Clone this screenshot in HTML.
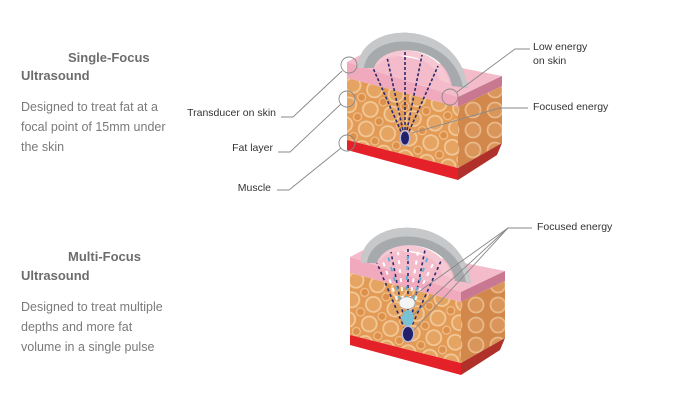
<!DOCTYPE html>
<html><head><style>
body{margin:0;background:#fff;width:685px;height:412px;overflow:hidden;font-family:"Liberation Sans",sans-serif;}
</style></head><body>
<svg width="685" height="412" viewBox="0 0 685 412" xmlns="http://www.w3.org/2000/svg" font-family="Liberation Sans, sans-serif">
<defs>
<pattern id="fat" width="22" height="20" patternUnits="userSpaceOnUse" patternTransform="rotate(12)">
<rect width="22" height="20" fill="#e39a55"/>
<circle cx="11" cy="10" r="7.5" fill="#e6a462" stroke="#f1c898" stroke-width="1.8"/>
<circle cx="0" cy="0" r="4" fill="#dd9049" stroke="#efc08d" stroke-width="1.2"/>
<circle cx="22" cy="20" r="4" fill="#dd9049" stroke="#efc08d" stroke-width="1.2"/>
<circle cx="22" cy="0" r="4" fill="#dd9049" stroke="#efc08d" stroke-width="1.2"/>
<circle cx="0" cy="20" r="4" fill="#dd9049" stroke="#efc08d" stroke-width="1.2"/>
</pattern>
<pattern id="fatd" width="22" height="20" patternUnits="userSpaceOnUse">
<rect width="22" height="20" fill="#d2884a"/>
<circle cx="11" cy="10" r="7.5" fill="#d9955a" stroke="#e9b888" stroke-width="1.8"/>
</pattern>
<g id="block">
<path d="M347,62 L370,50 L502,76 L458,97 Z" fill="#f4bccb"/>
<path d="M347,62 L458,97 L458,107 L347,78 Z" fill="#f0a9bd"/>
<path d="M347,78 L458,107 L458,168 L347,140 Z" fill="url(#fat)"/>
<path d="M347,140 L458,168 L458,180 L347,150 Z" fill="#e42028"/>
<path d="M458,97 L502,76 L502,86 L458,107 Z" fill="#c97892"/>
<path d="M458,107 L502,86 L502,143 L458,168 Z" fill="url(#fatd)"/>
<path d="M458,168 L502,143 L497,155 L458,180 Z" fill="#b0302a"/>
<path d="M373,68 C378,42 440,42 450,84 L440,80 C430,50 385,50 375,68 Z" fill="#f6c8d4"/>
<path d="M358,68 C358,20 458,16 468,88 L452,86 C444,42 382,42 374,68 Z" fill="#a7aaad"/>
<path d="M358,68 C358,20 458,16 468,88 L463,87 C452,30 368,30 364,68 Z" fill="#c6c8ca"/>
</g>
</defs>

<text x="68" y="62" font-size="13" font-weight="bold" fill="#6d6d6d">Single-Focus</text>
<text x="21" y="80" font-size="13" font-weight="bold" fill="#6d6d6d">Ultrasound</text>
<text font-size="12.5" fill="#7a7a7a"><tspan x="21" y="111">Designed to treat fat at a</tspan><tspan x="21" y="131">focal point of 15mm under</tspan><tspan x="21" y="151">the skin</tspan></text>

<text x="68" y="261" font-size="13" font-weight="bold" fill="#6d6d6d">Multi-Focus</text>
<text x="21" y="280" font-size="13" font-weight="bold" fill="#6d6d6d">Ultrasound</text>
<text font-size="12.5" fill="#7a7a7a"><tspan x="21" y="311">Designed to treat multiple</tspan><tspan x="21" y="331">depths and more fat</tspan><tspan x="21" y="351">volume in a single pulse</tspan></text>

<g font-size="10.5" fill="#333" text-anchor="end">
<text x="276" y="116">Transducer on skin</text>
<text x="273" y="151">Fat layer</text>
<text x="271" y="191">Muscle</text>
</g>
<g font-size="10.5" fill="#333">
<text x="533" y="50">Low energy</text>
<text x="533" y="64">on skin</text>
<text x="533" y="110">Focused energy</text>
<text x="537" y="230">Focused energy</text>
</g>

<use href="#block"/>
<g stroke="#2b2a6e" stroke-width="1.6" stroke-dasharray="3,2" fill="none">
<line x1="403" y1="136" x2="373" y2="68"/>
<line x1="404" y1="135" x2="387" y2="57"/>
<line x1="405" y1="135" x2="405" y2="51"/>
<line x1="406" y1="135" x2="422" y2="55"/>
<line x1="407" y1="136" x2="438" y2="66"/>
</g>
<ellipse cx="405" cy="138" rx="5.5" ry="8" fill="#b8b8d8"/>
<ellipse cx="405" cy="138" rx="4" ry="6.5" fill="#22206a"/>

<g stroke="#888" stroke-width="0.9" fill="none">
<circle cx="349" cy="65" r="8"/>
<circle cx="347" cy="99" r="8"/>
<circle cx="347" cy="143" r="8"/>
<circle cx="450" cy="97" r="8"/>
<polyline points="281,117 293,117 342,71"/>
<polyline points="278,152 290,152 341,104"/>
<polyline points="277,190 289,190 341,148"/>
<polyline points="530,49 515,49 457,92"/>
<polyline points="528,108 500,108 412,133"/>
</g>

<g transform="translate(3,195)"><use href="#block"/></g>
<g stroke-width="1.6" stroke-dasharray="3,3" fill="none">
<g stroke="#2b2a6e">
<line x1="405" y1="330" x2="377" y2="263"/>
<line x1="406" y1="330" x2="391" y2="252"/>
<line x1="408" y1="330" x2="408" y2="246"/>
<line x1="409" y1="330" x2="425" y2="250"/>
<line x1="410" y1="330" x2="441" y2="261"/>
</g>
<g stroke="#fff" stroke-width="2" stroke-dasharray="4,5">
<line x1="397" y1="300" x2="383" y2="262"/>
<line x1="403" y1="300" x2="398" y2="252"/>
<line x1="410" y1="300" x2="418" y2="252"/>
<line x1="415" y1="300" x2="434" y2="262"/>
</g>
<g stroke="#5fb3d6" stroke-width="2" stroke-dasharray="4,6">
<line x1="400" y1="300" x2="388" y2="256"/>
<line x1="406" y1="300" x2="408" y2="250"/>
<line x1="413" y1="300" x2="428" y2="256"/>
</g>
</g>
<ellipse cx="407" cy="303" rx="8" ry="6" fill="#f4f4f4" stroke="#aaa" stroke-width="0.6"/>
<ellipse cx="408" cy="318" rx="6" ry="8" fill="#79c2d6"/>
<ellipse cx="408" cy="334" rx="6.5" ry="8.5" fill="#b8b8d8"/>
<ellipse cx="408" cy="334" rx="5" ry="7" fill="#22206a"/>
<g stroke="#888" stroke-width="0.9" fill="none">
<polyline points="532,228 508,228 410,298"/>
<line x1="508" y1="228" x2="413" y2="315"/>
<line x1="508" y1="228" x2="414" y2="330"/>
</g>
</svg>
</body></html>
